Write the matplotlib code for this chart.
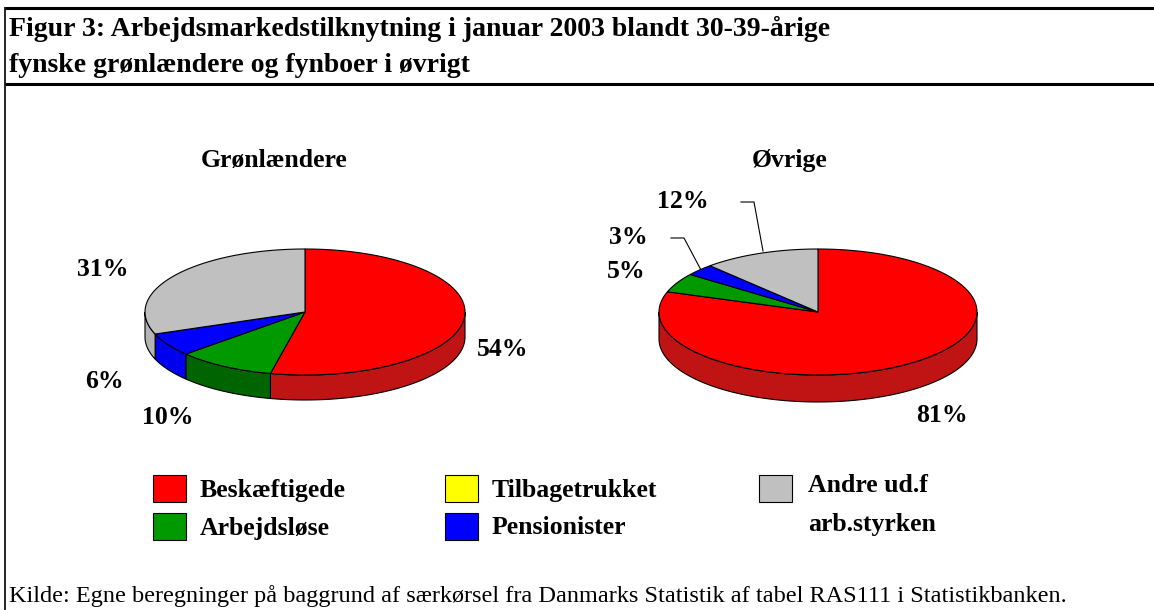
import numpy as np
import matplotlib
matplotlib.use("Agg")
import matplotlib.pyplot as plt
from matplotlib.patches import Polygon, Rectangle

# ---- data ----
pie_titles = ["Grønlændere", "Øvrige"]
# slice order clockwise from 12 o'clock
slice_order = ["Beskæftigede", "Arbejdsløse", "Pensionister", "Tilbagetrukket", "Andre ud.f\narb.styrken"]
groenlaendere = [54, 10, 6, 0, 31]
oevrige = [81, 5, 3, 0, 12]

top_colors = {"Beskæftigede": "#FF0000", "Arbejdsløse": "#009900", "Pensionister": "#0000FF",
              "Tilbagetrukket": "#FFFF00", "Andre ud.f\narb.styrken": "#C0C0C0"}
side_colors = {"Beskæftigede": "#C01414", "Arbejdsløse": "#006400", "Pensionister": "#0000F0",
               "Tilbagetrukket": "#CCCC00", "Andre ud.f\narb.styrken": "#B4B4B4"}

title_lines = ["Figur 3: Arbejdsmarkedstilknytning i januar 2003 blandt 30-39-årige",
               "fynske grønlændere og fynboer i øvrigt"]
source = "Kilde: Egne beregninger på baggrund af særkørsel fra Danmarks Statistik af tabel RAS111 i Statistikbanken."

SERIF = ["Liberation Serif", "DejaVu Serif"]

fig = plt.figure(figsize=(11.54, 6.10), dpi=100)
ax = fig.add_axes([0, 0, 1, 1])
ax.set_xlim(0, 1154)
ax.set_ylim(610, 0)
ax.axis("off")

# frame
lw = 2.2
ax.plot([5, 1154], [8, 8], color="black", lw=lw, solid_capstyle="butt")
ax.plot([5, 1154], [84, 84], color="black", lw=lw, solid_capstyle="butt")
ax.plot([5, 5], [7, 610], color="black", lw=1.2, solid_capstyle="butt")

ax.text(9, 29, title_lines[0], fontsize=20, fontweight="bold", family=SERIF,
        va="center", ha="left")
ax.text(9, 66, title_lines[1], fontsize=20, fontweight="bold", family=SERIF,
        va="center", ha="left")
ax.text(9, 596, source, fontsize=17.5, family=SERIF, va="center", ha="left")


def draw_pie3d(values, cx, cy, rx, ry, depth):
    vals = np.array(values, dtype=float)
    frac = vals / vals.sum()
    starts = 90 - 360 * np.concatenate([[0], np.cumsum(frac)[:-1]])
    ends = starts - 360 * frac
    pt = lambda t: (cx + rx * np.cos(np.radians(t)), cy - ry * np.sin(np.radians(t)))
    # side walls (front half: angles in [-180, 0] mod 360)
    for name, v, a0, a1 in zip(slice_order, vals, starts, ends):
        if v <= 0:
            continue
        lo, hi = a1, a0
        for k in (-1, 0, 1):
            flo, fhi = -180 + 360 * k, 360 * k
            s, e = max(lo, flo), min(hi, fhi)
            if e - s <= 0.01:
                continue
            t = np.linspace(s, e, 120)
            xs, ys = pt(t)
            poly = np.column_stack([np.concatenate([xs, xs[::-1]]),
                                    np.concatenate([ys, ys[::-1] + depth])])
            ax.add_patch(Polygon(poly, closed=True, facecolor=side_colors[name],
                                 edgecolor="black", lw=0.8, zorder=2))
    # top faces
    for name, v, a0, a1 in zip(slice_order, vals, starts, ends):
        if v <= 0:
            continue
        t = np.linspace(a0, a1, 200)
        xs, ys = pt(t)
        poly = np.column_stack([np.concatenate([[cx], xs]), np.concatenate([[cy], ys])])
        ax.add_patch(Polygon(poly, closed=True, facecolor=top_colors[name],
                             edgecolor="black", lw=0.8, zorder=3))


draw_pie3d(groenlaendere, 305, 312, 160, 63, 25)
draw_pie3d(oevrige, 818, 312, 159, 63, 27)

lab = dict(fontsize=18.5, fontweight="bold", family=SERIF, va="center", ha="center")
ax.text(274, 161, pie_titles[0], **lab)
ax.text(790, 161, pie_titles[1], **lab)

# percentage labels
g_pos = {"Beskæftigede": (503, 349), "Arbejdsløse": (168, 418), "Pensionister": (104, 382),
         "Andre ud.f\narb.styrken": (103, 270)}
o_pos = {"Beskæftigede": (942, 416), "Arbejdsløse": (626, 272), "Pensionister": (628, 238),
         "Andre ud.f\narb.styrken": (683, 202)}
for name, v in zip(slice_order, groenlaendere):
    if v > 0:
        ax.text(*g_pos[name], f"{v}%", **lab)
for name, v in zip(slice_order, oevrige):
    if v > 0:
        ax.text(*o_pos[name], f"{v}%", **lab)

# leader lines on Øvrige
ax.plot([671, 684, 701], [238, 238, 270], color="black", lw=0.8)
ax.plot([741, 754, 763], [202, 202, 251], color="black", lw=0.8)

# legend
leg = dict(fontsize=18.5, fontweight="bold", family=SERIF, va="center", ha="left")
leg_items = [("Beskæftigede", 153, 475), ("Arbejdsløse", 153, 513),
             ("Tilbagetrukket", 445, 475), ("Pensionister", 445, 513),
             ("Andre ud.f\narb.styrken", 759, 475)]
for name, x, y in leg_items:
    ax.add_patch(Rectangle((x, y), 33, 27, facecolor=top_colors[name],
                           edgecolor="black", lw=0.8, zorder=3))
    if "\n" in name:
        a, b = name.split("\n")
        ax.text(x + 49, y + 11, a, **leg)
        ax.text(x + 49, y + 49, b, **leg)
    else:
        ax.text(x + 47, y + 15, name, **leg)

fig.savefig("out.png", dpi=100)
